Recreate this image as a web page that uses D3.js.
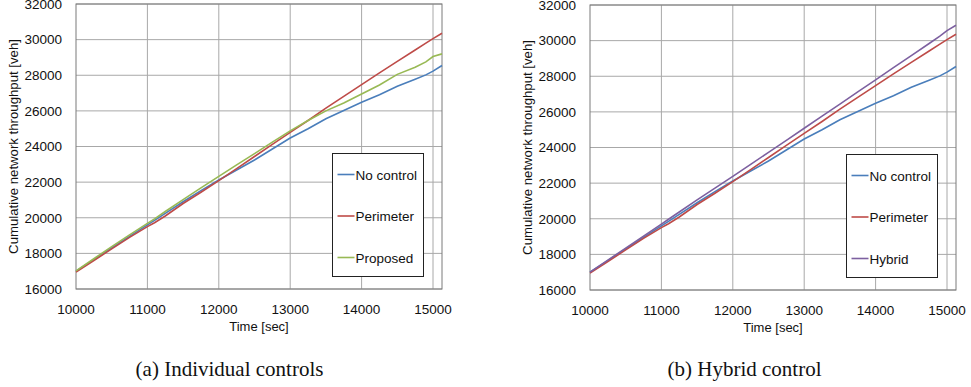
<!DOCTYPE html>
<html>
<head>
  <meta charset="utf-8">
  <title>Cumulative network throughput</title>
  <script src="https://cdn.jsdelivr.net/npm/d3@7/dist/d3.min.js"></script>
  <style>
    body { margin: 0; background: #fff; }
    text { font-family: "Liberation Sans", Arial, sans-serif; fill: #111; }
    .caption { font-family: "Liberation Serif", "Times New Roman", serif; }
  </style>
</head>
<body>
<svg id="chart" width="971" height="387"></svg>
<script>
// time stamps [sec]
var time = [10000, 10250, 10500, 10750, 11000, 11100, 11250, 11500, 11750, 12000,
            12250, 12500, 12750, 13000, 13250, 13500, 13750, 14000, 14250, 14500,
            14750, 14900, 15000, 15126];

// cumulative throughput [veh]
var noControl = [17000, 17650, 18300, 18950, 19600, 19850, 20250, 20900, 21520, 22120,
                 22680, 23240, 23860, 24480, 25000, 25560, 26020, 26480, 26900, 27380,
                 27780, 28020, 28230, 28550];
var perimeter = [16950, 17600, 18250, 18900, 19500, 19720, 20100, 20800, 21430, 22080,
                 22760, 23440, 24120, 24790, 25460, 26150, 26810, 27470, 28130, 28780,
                 29420, 29800, 30060, 30360];
var proposed  = [17020, 17700, 18380, 19040, 19680, 19940, 20350, 21020, 21680, 22320,
                 22970, 23600, 24250, 24880, 25460, 26000, 26440, 26950, 27450, 28050,
                 28450, 28750, 29050, 29200];
var hybrid    = [17000, 17680, 18350, 19020, 19700, 19970, 20380, 21060, 21720, 22380,
                 23050, 23730, 24400, 25080, 25760, 26440, 27120, 27800, 28480, 29160,
                 29840, 30250, 30560, 30860];

var xTicks = [10000, 11000, 12000, 13000, 14000, 15000];
var yTicks = [16000, 18000, 20000, 22000, 24000, 26000, 28000, 30000, 32000];

var colors = {
  "No control": "#4a7ebb",
  "Perimeter": "#be4b48",
  "Proposed": "#98b954",
  "Hybrid": "#7d60a0"
};

var svg = d3.select("#chart");

function drawPanel(opts) {
  var g = svg.append("g");
  var x = d3.scaleLinear().domain([10000, 15126]).range([opts.left, opts.right]);
  var y = d3.scaleLinear().domain([16000, 32000]).range([opts.bottom, opts.top]);

  // grid
  g.selectAll(".hgrid").data(yTicks).enter().append("line")
    .attr("x1", opts.left).attr("x2", opts.right)
    .attr("y1", function(d) { return y(d); }).attr("y2", function(d) { return y(d); })
    .attr("stroke", "#a8a8a8").attr("stroke-width", 1);
  g.selectAll(".vgrid").data(xTicks.slice(1)).enter().append("line")
    .attr("y1", opts.top).attr("y2", opts.bottom)
    .attr("x1", function(d) { return x(d); }).attr("x2", function(d) { return x(d); })
    .attr("stroke", "#a8a8a8").attr("stroke-width", 1);

  // plot border
  g.append("rect")
    .attr("x", opts.left).attr("y", opts.top)
    .attr("width", opts.right - opts.left).attr("height", opts.bottom - opts.top)
    .attr("fill", "none").attr("stroke", "#7a7a7a").attr("stroke-width", 1);

  // tick labels
  g.selectAll(".ylab").data(yTicks).enter().append("text")
    .attr("x", opts.left - 14).attr("y", function(d) { return y(d) + 4.8; })
    .attr("text-anchor", "end").style("font-size", "13.5px")
    .text(function(d) { return d; });
  g.selectAll(".xlab").data(xTicks).enter().append("text")
    .attr("x", function(d) { return x(d); }).attr("y", opts.bottom + 25)
    .attr("text-anchor", "middle").style("font-size", "13.5px")
    .text(function(d) { return d; });

  // axis titles
  g.append("text")
    .attr("x", (opts.left + opts.right) / 2).attr("y", opts.bottom + 42)
    .attr("text-anchor", "middle").style("font-size", "13px")
    .text("Time [sec]");
  g.append("text")
    .attr("transform", "translate(" + (opts.left - 58) + "," + ((opts.top + opts.bottom) / 2) + ") rotate(-90)")
    .attr("text-anchor", "middle").style("font-size", "13.2px")
    .text("Cumulative network throughput [veh]");

  // lines
  var line = d3.line()
    .x(function(d, i) { return x(time[i]); })
    .y(function(d) { return y(d); });
  opts.series.forEach(function(s) {
    g.append("path")
      .attr("d", line(s.values))
      .attr("fill", "none")
      .attr("stroke", colors[s.name])
      .attr("stroke-width", 1.6);
  });

  // legend
  var lg = opts.legend;
  g.append("rect")
    .attr("x", lg.x).attr("y", lg.y).attr("width", lg.w).attr("height", lg.h)
    .attr("fill", "#fff").attr("stroke", "#222").attr("stroke-width", 1);
  opts.series.forEach(function(s, i) {
    var yy = lg.y + 21 + i * 41.5;
    g.append("line")
      .attr("x1", lg.x + 5).attr("x2", lg.x + 22)
      .attr("y1", yy).attr("y2", yy)
      .attr("stroke", colors[s.name]).attr("stroke-width", 1.6);
    g.append("text")
      .attr("x", lg.x + 23).attr("y", yy + 5)
      .style("font-size", "13.5px")
      .text(s.name);
  });

  // caption
  svg.append("text")
    .attr("class", "caption")
    .attr("x", opts.captionX).attr("y", 376)
    .attr("text-anchor", "middle").style("font-size", "21px")
    .text(opts.caption);
}

drawPanel({
  left: 76, right: 442, top: 4, bottom: 289,
  series: [
    { name: "No control", values: noControl },
    { name: "Perimeter", values: perimeter },
    { name: "Proposed", values: proposed }
  ],
  legend: { x: 332.5, y: 153.5, w: 91, h: 123 },
  caption: "(a) Individual controls", captionX: 229.5
});

drawPanel({
  left: 590, right: 956, top: 5, bottom: 290,
  series: [
    { name: "No control", values: noControl },
    { name: "Perimeter", values: perimeter },
    { name: "Hybrid", values: hybrid }
  ],
  legend: { x: 846.5, y: 154.5, w: 91, h: 123 },
  caption: "(b) Hybrid control", captionX: 744.5
});
</script>
</body>
</html>
